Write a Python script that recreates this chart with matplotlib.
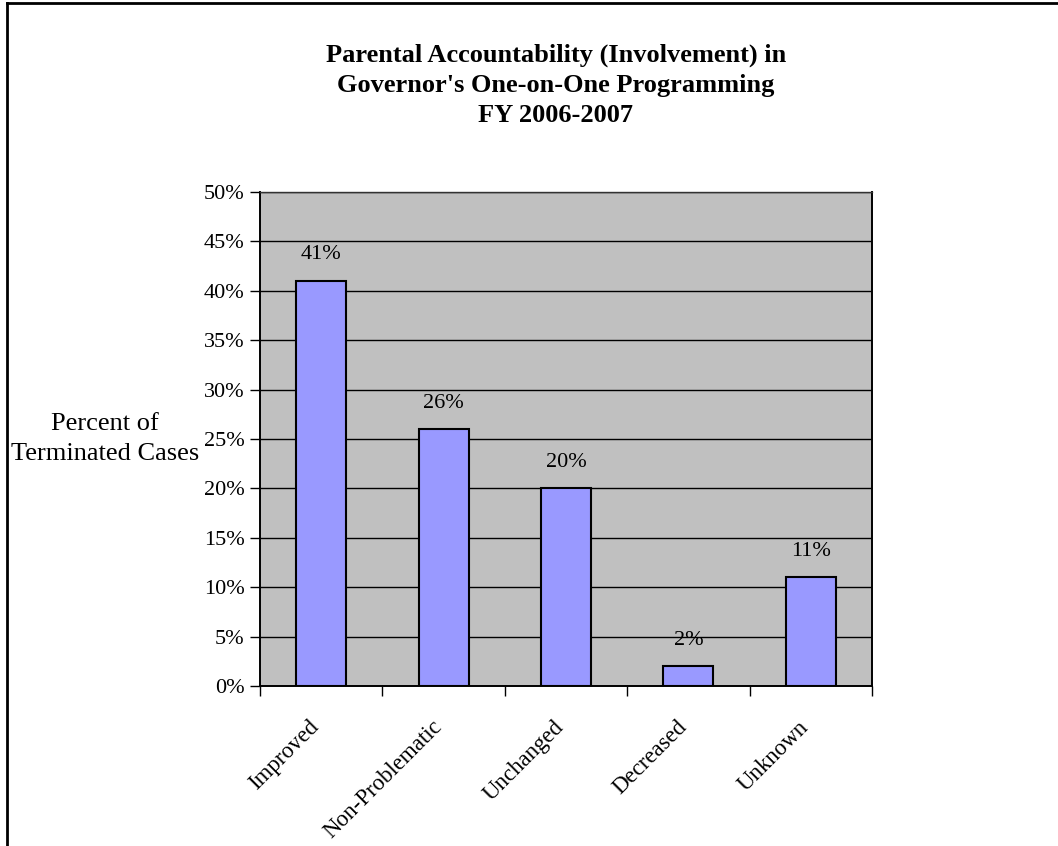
import numpy as np
import matplotlib.pyplot as plt
from matplotlib.lines import Line2D

plt.rcParams['font.family'] = ['Liberation Serif', 'DejaVu Serif']

categories = ['Improved', 'Non-Problematic', 'Unchanged', 'Decreased', 'Unknown']
percent = [41, 26, 20, 2, 11]
y_ticks = [0, 5, 10, 15, 20, 25, 30, 35, 40, 45, 50]

fig = plt.figure(figsize=(10.58, 8.46), dpi=100)
W, H = 1058, 846

# plot area in pixels: left 260, right 872, top 192, bottom 686
ax = fig.add_axes([260 / W, 1 - 686 / H, 612 / W, 494 / H])
ax.set_facecolor('#C0C0C0')

x = np.arange(len(categories))
ax.bar(x, percent, width=0.41, color='#9999FF', edgecolor='black',
       linewidth=1.5, zorder=3)

for xi, v in zip(x, percent):
    ax.annotate(f'{v}%', xy=(xi, v), xytext=(0, 26), textcoords='offset pixels',
                ha='center', va='center', fontsize=16)

ax.set_xlim(-0.5, len(categories) - 0.5)
ax.set_ylim(0, 50)
ax.set_yticks(y_ticks)
ax.set_yticklabels([f'{t}%' for t in y_ticks], fontsize=16)
ax.yaxis.grid(True, color='black', linewidth=1)
ax.set_axisbelow(True)

# category ticks sit between the bars
ax.set_xticks(np.arange(-0.5, len(categories)))
ax.set_xticklabels([])
ax.tick_params(axis='x', length=7, width=1, direction='out')
ax.tick_params(axis='y', length=7, width=1, direction='out', pad=4)

# slanted category names under each bar
for xi, name in zip(x, categories):
    ax.annotate(name, xy=(xi, 0), xytext=(-5, -38), textcoords='offset pixels',
                ha='right', va='center', rotation=45, rotation_mode='anchor',
                fontsize=16.5, annotation_clip=False)

for side in ['left', 'bottom', 'right']:
    ax.spines[side].set_linewidth(1.4)
ax.spines['top'].set_linewidth(1)
ax.spines['top'].set_color('#333333')

fig.text(105 / W, 1 - 439 / H, 'Percent of\nTerminated Cases', ha='center',
         va='center', fontsize=19, linespacing=1.45)

fig.text(556 / W, 1 - 85 / H,
         "Parental Accountability (Involvement) in\n"
         "Governor's One-on-One Programming\nFY 2006-2007",
         ha='center', va='center', fontsize=19, fontweight='bold',
         linespacing=1.38)

# outer chart frame (left and top edges)
fig.add_artist(Line2D([6.5 / W, 6.5 / W], [0, 1 - 3.5 / H], color='black',
                      linewidth=2, transform=fig.transFigure))
fig.add_artist(Line2D([6.5 / W, 1], [1 - 3.5 / H, 1 - 3.5 / H], color='black',
                      linewidth=2, transform=fig.transFigure))

fig.savefig('out.png', dpi=100)
